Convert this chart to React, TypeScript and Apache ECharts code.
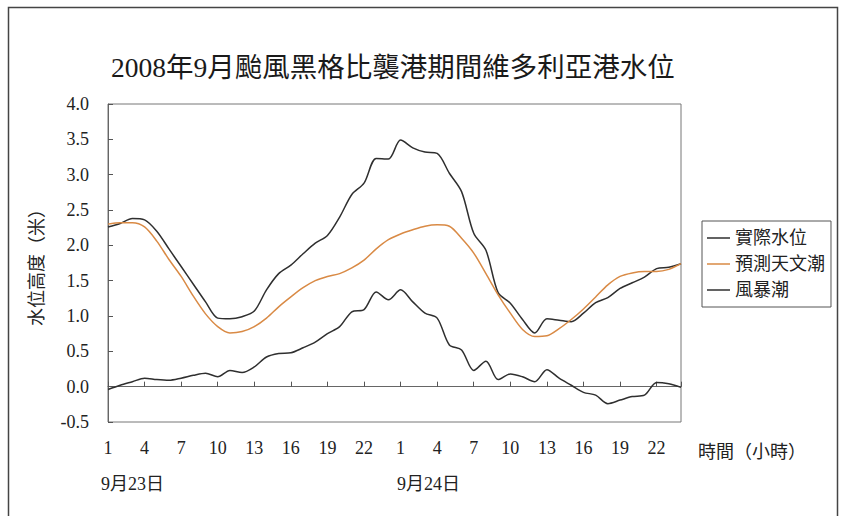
import React, { useEffect, useRef } from "react";
import * as echarts from "echarts";

const titleText = "2008年9月颱風黑格比襲港期間維多利亞港水位";
const seriesNames = ["實際水位", "預測天文潮", "風暴潮"];
const dayLabels = ["9月23日", "9月24日"];
const xAxisTitle = "時間（小時）";
const yAxisTitle = "水位高度（米）";

// hour index 0..47 (0 = 9月23日 1時)
const hours = Array.from({ length: 48 }, (_, i) => i);

const actual = [
  2.26, 2.31, 2.38, 2.36, 2.2, 1.95, 1.7, 1.45, 1.2, 0.97, 0.96, 0.99,
  1.07, 1.37, 1.6, 1.72, 1.88, 2.03, 2.14, 2.4, 2.72, 2.88, 3.23, 3.22,
  3.49, 3.38, 3.32, 3.3, 3.02, 2.76, 2.17, 1.93, 1.33, 1.18, 0.95, 0.76,
  0.96, 0.94, 0.92, 1.04, 1.19, 1.26, 1.39, 1.47, 1.55, 1.67, 1.69, 1.74,
];

const predicted = [
  2.3, 2.32, 2.32, 2.26, 2.06, 1.8, 1.56, 1.28, 1.03, 0.85, 0.76, 0.78,
  0.85, 0.97, 1.13, 1.27, 1.4, 1.5, 1.56, 1.6, 1.68, 1.79, 1.95, 2.08,
  2.16, 2.22, 2.27, 2.29, 2.27, 2.1, 1.89, 1.6, 1.3, 1.04, 0.81, 0.71,
  0.72, 0.82, 0.95, 1.1, 1.27, 1.44, 1.56, 1.61, 1.63, 1.63, 1.66, 1.74,
];

const surge = [
  -0.04, 0.02, 0.07, 0.12, 0.1, 0.09, 0.12, 0.16, 0.19, 0.14, 0.23, 0.2,
  0.28, 0.42, 0.47, 0.48, 0.55, 0.63, 0.75, 0.85, 1.06, 1.09, 1.34, 1.23,
  1.37, 1.2, 1.04, 0.97, 0.59, 0.52, 0.23, 0.36, 0.1, 0.18, 0.14, 0.07,
  0.24, 0.12, 0.02, -0.08, -0.12, -0.24, -0.19, -0.14, -0.12, 0.06, 0.04, -0.01,
];

const LATIN = "Liberation Serif";
const MIXED = "Liberation Serif, Noto Sans CJK TC";
const DARK = "#2f2f2f";
const ORANGE = "#d98a45";

export default function App() {
  const ref = useRef<HTMLDivElement>(null);

  useEffect(() => {
    if (!ref.current) return;
    const chart = echarts.init(ref.current, null, { renderer: "svg" });
    const pair = (arr: number[]) => hours.map((h, i) => [h, arr[i]]);
    chart.setOption({
      animation: false,
      backgroundColor: "#ffffff",
      textStyle: { fontFamily: MIXED },
      title: {
        text: titleText,
        left: 111,
        top: 54,
        padding: 0,
        textStyle: {
          fontFamily: MIXED,
          fontSize: 27.5,
          fontWeight: "normal",
          color: "#1a1a1a",
        },
      },
      legend: {
        orient: "vertical",
        left: 702,
        top: 221,
        data: seriesNames,
        icon: "rect",
        itemWidth: 23,
        itemHeight: 1.5,
        itemGap: 8,
        padding: [8, 6, 8, 5],
        borderColor: "#555",
        borderWidth: 1,
        textStyle: { fontFamily: MIXED, fontSize: 18, color: "#222", lineHeight: 18 },
      },
      grid: {
        left: 108,
        top: 104,
        right: 160,
        bottom: 94,
        show: true,
        borderColor: "#777",
        borderWidth: 1,
        containLabel: false,
      },
      xAxis: {
        type: "value",
        min: 0,
        max: 47,
        interval: 3,
        axisLine: { lineStyle: { color: "#666", width: 1 } },
        axisTick: { inside: true, length: 5, lineStyle: { color: "#555" } },
        splitLine: { show: false },
        axisLabel: {
          margin: 17,
          fontFamily: LATIN,
          fontSize: 18,
          color: "#222",
          formatter: (v: number) => (v >= 47 ? "" : String((v % 24) + 1)),
        },
      },
      yAxis: {
        type: "value",
        min: -0.5,
        max: 4.0,
        interval: 0.5,
        name: yAxisTitle,
        nameLocation: "middle",
        nameGap: 62,
        nameRotate: 90,
        nameTextStyle: { fontFamily: MIXED, fontSize: 18, color: "#222" },
        axisLine: { show: true, lineStyle: { color: "#666", width: 1 } },
        axisTick: { show: true, inside: true, length: 5, lineStyle: { color: "#555" } },
        splitLine: { show: false },
        axisLabel: {
          margin: 19,
          fontFamily: LATIN,
          fontSize: 18,
          color: "#222",
          formatter: (v: number) => v.toFixed(1),
        },
      },
      graphic: [
        {
          type: "rect",
          shape: { x: 8.5, y: 7.5, width: 829, height: 540 },
          style: { fill: "none", stroke: "#444", lineWidth: 1.5 },
          silent: true,
        },
        {
          type: "text",
          x: 101,
          y: 484,
          style: { text: dayLabels[0], fontFamily: MIXED, fontSize: 18, fill: "#222", verticalAlign: "middle" },
        },
        {
          type: "text",
          x: 397,
          y: 484,
          style: { text: dayLabels[1], fontFamily: MIXED, fontSize: 18, fill: "#222", verticalAlign: "middle" },
        },
        {
          type: "text",
          x: 698,
          y: 452,
          style: { text: xAxisTitle, fontFamily: MIXED, fontSize: 18, fill: "#222", verticalAlign: "middle" },
        },
      ],
      series: [
        {
          name: seriesNames[0],
          type: "line",
          data: pair(actual),
          symbol: "none",
          smooth: 0.3,
          lineStyle: { color: DARK, width: 1.5 },
          itemStyle: { color: DARK },
        },
        {
          name: seriesNames[1],
          type: "line",
          data: pair(predicted),
          symbol: "none",
          smooth: 0.3,
          lineStyle: { color: ORANGE, width: 1.5 },
          itemStyle: { color: ORANGE },
        },
        {
          name: seriesNames[2],
          type: "line",
          data: pair(surge),
          symbol: "none",
          smooth: 0.3,
          lineStyle: { color: DARK, width: 1.5 },
          itemStyle: { color: DARK },
        },
      ],
    });
    return () => chart.dispose();
  }, []);

  return (
    <div
      ref={ref}
      style={{ position: "absolute", left: 0, top: 0, width: 841, height: 516 }}
    />
  );
}
